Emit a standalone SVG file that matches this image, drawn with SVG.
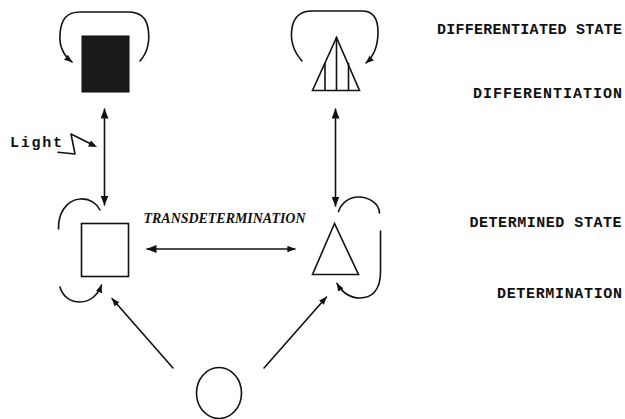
<svg xmlns="http://www.w3.org/2000/svg" width="625" height="419" viewBox="0 0 625 419">
<defs>
<marker id="ah" viewBox="0 0 10 8" refX="9.5" refY="4" markerWidth="10" markerHeight="8" markerUnits="userSpaceOnUse" orient="auto-start-reverse">
<path d="M0 0 L10 4 L0 8 Z" fill="#111"/>
</marker>
<marker id="ahs" viewBox="0 0 10 8" refX="9.5" refY="4" markerWidth="8" markerHeight="7" markerUnits="userSpaceOnUse" orient="auto-start-reverse">
<path d="M0 0 L10 4 L0 8 Z" fill="#111"/>
</marker>
</defs>
<style>
.ln{fill:none;stroke:#111;stroke-width:1.6;stroke-linecap:round;stroke-linejoin:round}
.sh{fill:#fff;stroke:#111;stroke-width:1.6;stroke-linejoin:miter}
.lab{font-family:"Liberation Mono","Courier New",monospace;font-weight:bold;font-size:15px;fill:#111}
.tr{font-family:"Liberation Serif","Times New Roman",serif;font-weight:bold;font-style:italic;font-size:14px;fill:#111}
</style>
<rect width="625" height="419" fill="#fff"/>

<g id="connectors">
<!-- vertical double arrows -->
<line class="ln" x1="104.5" y1="109" x2="104.5" y2="205" marker-start="url(#ah)" marker-end="url(#ah)"/>
<line class="ln" x1="335.5" y1="109" x2="335.5" y2="206" marker-start="url(#ah)" marker-end="url(#ah)"/>
<!-- transdetermination -->
<line class="ln" x1="147" y1="249" x2="295" y2="249" marker-start="url(#ah)" marker-end="url(#ahs)"/>
<!-- determination diagonals -->
<line class="ln" x1="173" y1="368" x2="112" y2="298.5" marker-end="url(#ahs)"/>
<line class="ln" x1="264" y1="368" x2="326.5" y2="297" marker-end="url(#ahs)"/>
<!-- self loops differentiated -->
<path class="ln" d="M140 61 C148 52 150 40 148 28 C146 16 138 12 128 12 L80 12 C66 12 61 20 60 34 C59 46 63 55 72 62" marker-end="url(#ahs)"/>
<path class="ln" d="M302 61 C294 52 290 40 292 28 C294 16 302 11 312 11 L362 11 C374 11 378 20 378 32 C378 46 374 56 366 63" marker-end="url(#ahs)"/>
<!-- self loops determined left -->
<path class="ln" d="M58.5 229 C58 214 66 200 80 199 C90 198 97 204 100 210"/>
<path class="ln" d="M60 287 C63 298 72 302 80 302 C90 302 98 295 101.5 285" marker-end="url(#ahs)"/>
<!-- self loops determined right -->
<path class="ln" d="M338.5 211.5 C342 202 350 197 358 197 C370 197 379 204 379.5 213"/>
<path class="ln" d="M380.5 231 L380.5 272 C380.5 290 372 298 360 298 C350 298 342 292 337 283.5" marker-end="url(#ahs)"/>
</g>

<g id="differentiated-square">
<rect x="82" y="36" width="47" height="56" fill="#1a1a1a" stroke="#111" stroke-width="1"/>
</g>

<g id="differentiated-triangle">
<polygon class="sh" points="336.5,37.5 312.5,90.5 359.5,90.5"/>
<line class="ln" x1="336.5" y1="37.5" x2="336.5" y2="90.5"/>
<line class="ln" x1="325" y1="63.5" x2="325" y2="90.5"/>
<line class="ln" x1="348.5" y1="63.5" x2="348.5" y2="90.5"/>
</g>

<g id="determined-square">
<rect class="sh" x="81.5" y="223.5" width="47" height="53"/>
</g>

<g id="determined-triangle">
<polygon class="sh" points="334.5,223.5 312.5,274.5 358.5,274.5"/>
</g>

<g id="undetermined-circle">
<ellipse class="sh" cx="219" cy="393" rx="22.5" ry="25.5"/>
</g>

<g id="light">
<text class="lab" x="10" y="146.5" font-size="14" textLength="52" lengthAdjust="spacing">Light</text>
<path class="ln" d="M58 152.3 L75 154 L71 134 L90 143.5"/>
<path d="M97 147 L88 146.5 L91 140.5 Z" fill="#111"/>
</g>

<g id="labels">
<text class="tr" x="143.5" y="223" textLength="162" lengthAdjust="spacingAndGlyphs">TRANSDETERMINATION</text>
<text class="lab" x="437" y="34.3" textLength="185" lengthAdjust="spacing">DIFFERENTIATED STATE</text>
<text class="lab" x="473" y="97.7" textLength="149" lengthAdjust="spacing">DIFFERENTIATION</text>
<text class="lab" x="469.5" y="226.7" textLength="152" lengthAdjust="spacing">DETERMINED STATE</text>
<text class="lab" x="497" y="298.3" textLength="125" lengthAdjust="spacing">DETERMINATION</text>
</g>
</svg>
